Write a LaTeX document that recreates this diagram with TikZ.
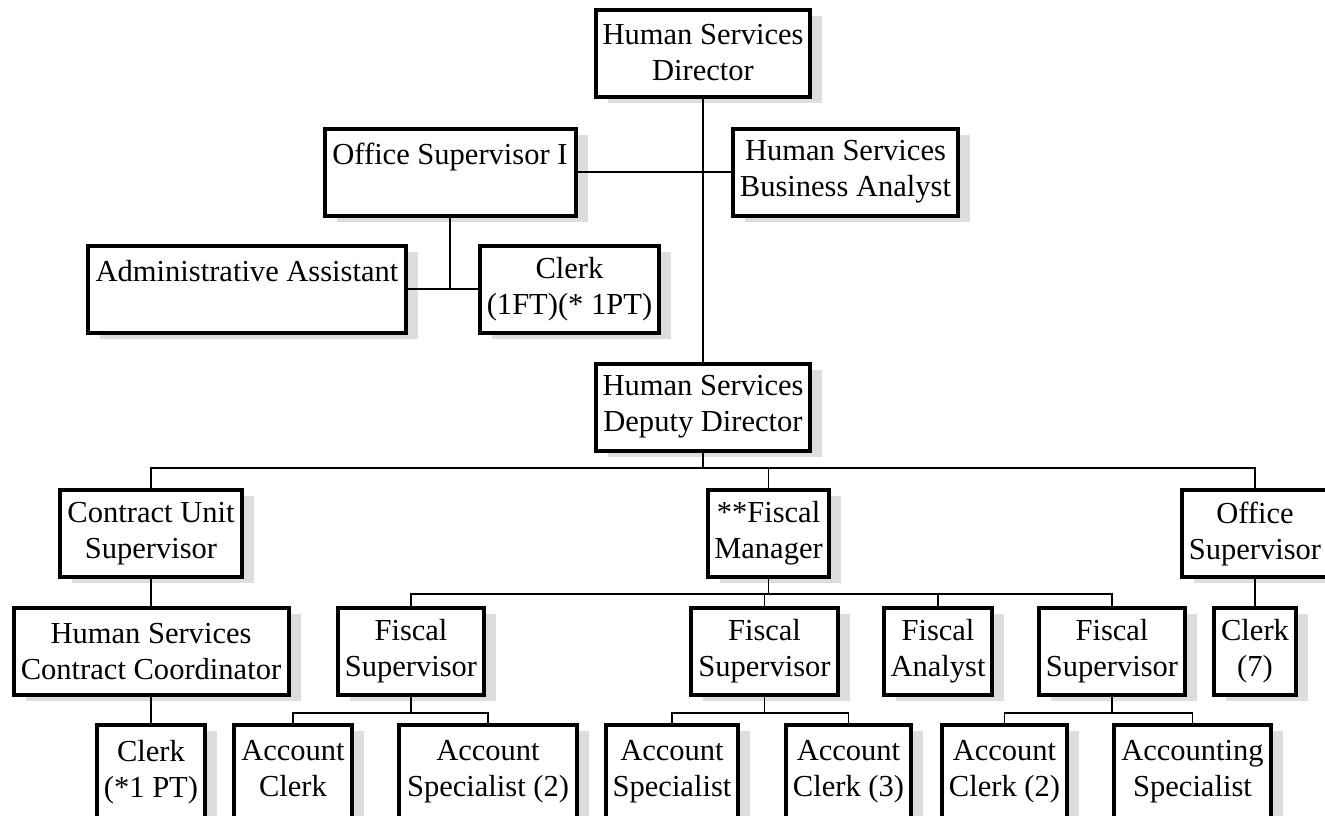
\documentclass[tikz,border=0pt]{standalone}
\usepackage{fontspec}
\setmainfont{Liberation Serif}
\usepackage{tikz}
\usetikzlibrary{positioning,shapes,shadows}
\definecolor{shadowgray}{RGB}{221,221,221}
\tikzset{
  box/.style={draw, line width=3pt, fill=white, align=center, inner sep=1pt,
    minimum width=#1, minimum height=65.25pt,
    font=\fontsize{22.9}{27}\selectfont,
    general shadow={fill=shadowgray, shadow xshift=9pt, shadow yshift=-4.5pt}},
  leaf/.style={box=#1, minimum height=77.25pt,
    execute at end node={\rule[-12pt]{0pt}{0pt}}},
  link/.style={line width=1.2pt}
}

\begin{document}
\begin{tikzpicture}[x=0.75pt,y=-0.75pt]
    \useasboundingbox (0,0) rectangle (1325,815);
    \node[box=160.5pt] at (703,53) (dir) {Human Services\\Director};
    \node[box=188.25pt] at (450,172) (osup1) {Office Supervisor I\\~};
    \node[box=168.75pt] at (845.5,172) (analyst) {Human Services\\Business Analyst};
    \node[box=238.5pt] at (247,289) (admin) {Administrative Assistant\\~};
    \node[box=134.25pt] at (569.5,289) (clerkA) {Clerk\\(1FT)(* 1PT)};
    \node[box=160.5pt] at (703,407) (deputy) {Human Services\\Deputy Director};
%
    \node[box=136.5pt] at (151,533.5) (contract) {Contract Unit\\Supervisor};
    \node[box=90.75pt] at (768.5,533.5) (fiscal) {**Fiscal\\Manager};
    \node[box=109.5pt] at (1255,533.5) (osup2) {Office\\Supervisor};
%
    \node[box=206.25pt] at (151,651.5) (coord) {Human Services\\Contract Coordinator};
    \node[box=109.5pt] at (411,651.5) (fs1) {Fiscal\\Supervisor};
    \node[box=110.25pt] at (764.5,651.5) (fs2) {Fiscal\\Supervisor};
    \node[box=81pt] at (938,651.5) (fa) {Fiscal\\Analyst};
    \node[box=109.5pt] at (1112,651.5) (fs3) {Fiscal\\Supervisor};
    \node[box=61.5pt] at (1255,651.5) (clerk7) {Clerk\\(7)};
%
    \node[leaf=81pt] at (151,776.5) (clerkB) {Clerk\\(*1 PT)};
    \node[leaf=88.5pt] at (293,776.5) (acctclerk) {Account\\Clerk};
    \node[leaf=133.5pt] at (488,776.5) (acctspec2) {Account\\Specialist (2)};
    \node[leaf=99pt] at (672,776.5) (acctspec) {Account\\Specialist};
    \node[leaf=93.75pt] at (848.5,776.5) (acctclerk3) {Account\\Clerk (3)};
    \node[leaf=93.75pt] at (1004.5,776.5) (acctclerk2) {Account\\Clerk (2)};
    \node[leaf=117.75pt] at (1192.5,776.5) (accspec) {Accounting\\Specialist};
%
    \draw[link] (dir) -- (deputy);
    \draw[link] (osup1) -- (analyst);
    \draw[link] (admin) -- (clerkA);
    \draw[link] (osup1) -- (osup1 |- admin);
    \draw[link] (deputy.south) -- ++(0,15);
    \draw[link] (contract.north) -- ++(0,-20) -| (osup2.north);
    \draw[link] (fiscal.north) -- ++(0,-20);
    \draw[link] (fiscal.south) -- ++(0,15);
    \draw[link] (fs1.north) -- ++(0,-12) -| (fs3.north);
    \draw[link] (fs2.north) -- ++(0,-12);
    \draw[link] (fa.north) -- ++(0,-12);
    \draw[link] (contract) -- (coord);
    \draw[link] (coord) -- (clerkB);
    \draw[link] (osup2) -- (clerk7);
    \draw[link] (fs1.south) -- ++(0,16);
    \draw[link] (acctclerk.north) -- ++(0,-10) -| (acctspec2.north);
    \draw[link] (fs2.south) -- ++(0,16);
    \draw[link] (acctspec.north) -- ++(0,-10) -| (acctclerk3.north);
    \draw[link] (fs3.south) -- ++(0,16);
    \draw[link] (acctclerk2.north) -- ++(0,-10) -| (accspec.north);
  \end{tikzpicture}
\end{document}
